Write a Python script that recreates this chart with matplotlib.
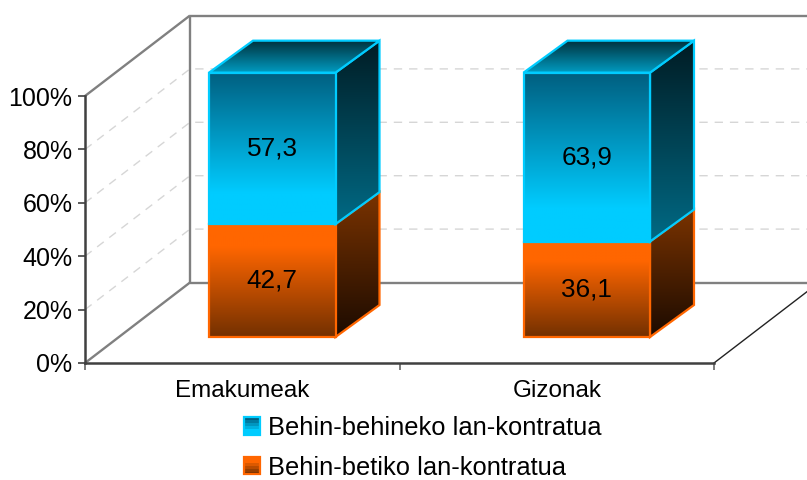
import numpy as np
import matplotlib
matplotlib.use("Agg")
import matplotlib.pyplot as plt
from matplotlib.patches import Polygon, Rectangle, Patch
from matplotlib.legend_handler import HandlerBase
from matplotlib.ticker import FixedLocator, FixedFormatter, NullFormatter

plt.rcParams['font.family'] = ['Liberation Sans', 'DejaVu Sans']

categories = ['Emakumeak', 'Gizonak']
series_names = ['Behin-behineko lan-kontratua', 'Behin-betiko lan-kontratua']
betiko = [42.7, 36.1]
behineko = [57.3, 63.9]
value_labels_betiko = ['42,7', '36,1']
value_labels_behineko = ['57,3', '63,9']
y_ticks = [0, 20, 40, 60, 80, 100]
y_labels = ['0%', '20%', '40%', '60%', '80%', '100%']

W, H = 807, 480
L, R, T, B = 85, 714, 96, 363      # front plane in pixels
fig = plt.figure(figsize=(W / 100, H / 100), dpi=100, facecolor='white')
ax = fig.add_axes([L / W, 1 - B / H, (R - L) / W, (B - T) / H], facecolor='none')
ax.set_autoscale_on(False)
ax.set_xlim(0, 2)
ax.set_ylim(0, 100)

ux = (R - L) / 2      # pixels per x unit
uy = (B - T) / 100    # pixels per y unit
DX, DY = 105 / ux, 80.5 / uy        # chart depth in data units
BX, BY = 30 / ux, 26 / uy           # bar front plane offset
dX, dY = 44 / ux, 32 / uy           # bar depth
BAR_W = 126.5 / ux
SCALE = 0.99

BLUE_E, ORANGE_E = '#00CCFF', '#FF6600'
grad_blue_front = [(0, '#005F80'), (.8, '#00CCFF'), (1, '#00CCFF')]
grad_blue_side = [(0, '#001C24'), (1, '#006A85')]
grad_blue_top = [(0, '#00333F'), (1, '#009CC2')]
grad_or_front = [(0, '#FF6600'), (.2, '#FF6600'), (1, '#733000')]
grad_or_side = [(0, '#7A3300'), (1, '#1C0B00')]


def gradient_rows(stops, n=128):
    t = np.linspace(0, 1, n)
    pos = [s[0] for s in stops]
    cols = np.array([matplotlib.colors.to_rgb(s[1]) for s in stops])
    return np.stack([np.interp(t, pos, cols[:, i]) for i in range(3)], axis=1)[:, None, :]


def face(pts, stops, edge, z):
    pts = np.array(pts)
    poly = Polygon(pts, closed=True, transform=ax.transData, fill=False, edgecolor=edge,
                   linewidth=1.6, clip_on=False, zorder=z + 0.05, joinstyle='miter')
    ax.add_patch(poly)
    im = ax.imshow(gradient_rows(stops), aspect='auto', interpolation='bilinear',
                   extent=(pts[:, 0].min(), pts[:, 0].max(), pts[:, 1].min(), pts[:, 1].max()),
                   origin='upper', zorder=z)
    im.set_clip_path(poly)
    im.set_clip_box(fig.bbox)


# walls and floor
wall = dict(color='#808080', lw=1.7, clip_on=False, zorder=1, solid_capstyle='butt')
ax.plot([DX, DX], [DY, 100 + DY], **wall)
ax.plot([DX, 2 + DX], [100 + DY] * 2, **wall)
ax.plot([DX, 2 + DX], [DY, DY], **wall)
ax.plot([0, DX], [0, DY], **wall)
ax.plot([0, DX], [100, 100 + DY], **wall)
ax.plot([2, 2 + DX], [0, DY], color='#222222', lw=1.0, clip_on=False, zorder=1)

# gridlines
for v in y_ticks[1:-1]:
    ax.plot([0, DX, 2 + DX], [v, v + DY, v + DY], color='#D6D6D6', lw=1.0,
            dashes=(6, 5), clip_on=False, zorder=0.5)

# bars
for i in range(len(categories)):
    x0 = i + 0.5 - BAR_W / 2 + BX
    x1 = x0 + BAR_W
    b = BY
    m = b + betiko[i] * SCALE
    t = m + behineko[i] * SCALE
    z = 3 + i
    face([(x1, b), (x1 + dX, b + dY), (x1 + dX, m + dY), (x1, m)], grad_or_side, ORANGE_E, z)
    face([(x0, b), (x1, b), (x1, m), (x0, m)], grad_or_front, ORANGE_E, z + .1)
    face([(x1, m), (x1 + dX, m + dY), (x1 + dX, t + dY), (x1, t)], grad_blue_side, BLUE_E, z + .2)
    face([(x0, t), (x1, t), (x1 + dX, t + dY), (x0 + dX, t + dY)], grad_blue_top, BLUE_E, z + .3)
    face([(x0, m), (x1, m), (x1, t), (x0, t)], grad_blue_front, BLUE_E, z + .4)
    xc = (x0 + x1) / 2
    ax.text(xc, (b + m) / 2, value_labels_betiko[i], ha='center', va='center',
            fontsize=18.8, color='black', zorder=9)
    ax.text(xc, (m + t) / 2, value_labels_behineko[i], ha='center', va='center',
            fontsize=18.8, color='black', zorder=9)

# axes
for s in ('top', 'right'):
    ax.spines[s].set_visible(False)
for s in ('left', 'bottom'):
    ax.spines[s].set_color('#404040')
    ax.spines[s].set_linewidth(1.8)
ax.yaxis.set_major_locator(FixedLocator(y_ticks))
ax.yaxis.set_major_formatter(FixedFormatter(y_labels))
ax.xaxis.set_major_locator(FixedLocator([0, 1, 2]))
ax.xaxis.set_major_formatter(NullFormatter())
ax.xaxis.set_minor_locator(FixedLocator([0.5, 1.5]))
ax.xaxis.set_minor_formatter(FixedFormatter(categories))
ax.tick_params(axis='y', which='major', length=5, width=1.2, color='#404040',
               labelsize=18, pad=4)
ax.tick_params(axis='x', which='major', length=5, width=1.2, color='#666666')
ax.tick_params(axis='x', which='minor', length=0, labelsize=17.5, pad=12.5)


class GradientHandler(HandlerBase):
    def create_artists(self, legend, orig, xd, yd, width, height, fontsize, trans):
        stops, edge = orig.stops, orig.edge
        rows = gradient_rows(stops, 6)[:, 0, :]
        arts = []
        for k, c in enumerate(rows):
            arts.append(Rectangle((-xd, -yd + height * (1 - (k + 1) / 6)), width, height / 6,
                                  facecolor=c, edgecolor='none', transform=trans))
        arts.append(Rectangle((-xd, -yd), width, height, fill=False, edgecolor=edge,
                              linewidth=1.6, transform=trans))
        return arts


h1 = Patch(label=series_names[0])
h1.stops, h1.edge = grad_blue_front, BLUE_E
h2 = Patch(label=series_names[1])
h2.stops, h2.edge = grad_or_front, ORANGE_E
fig.legend(handles=[h1, h2], handler_map={Patch: GradientHandler()}, frameon=False,
           loc='upper left', bbox_to_anchor=(243.5 / W, 1 - 416 / H), bbox_transform=fig.transFigure,
           fontsize=18.4, borderpad=0, borderaxespad=0, handlelength=0.66, handleheight=0.66,
           handletextpad=0.3, labelspacing=0.62)

fig.savefig('out.png', dpi=100, facecolor='white')
